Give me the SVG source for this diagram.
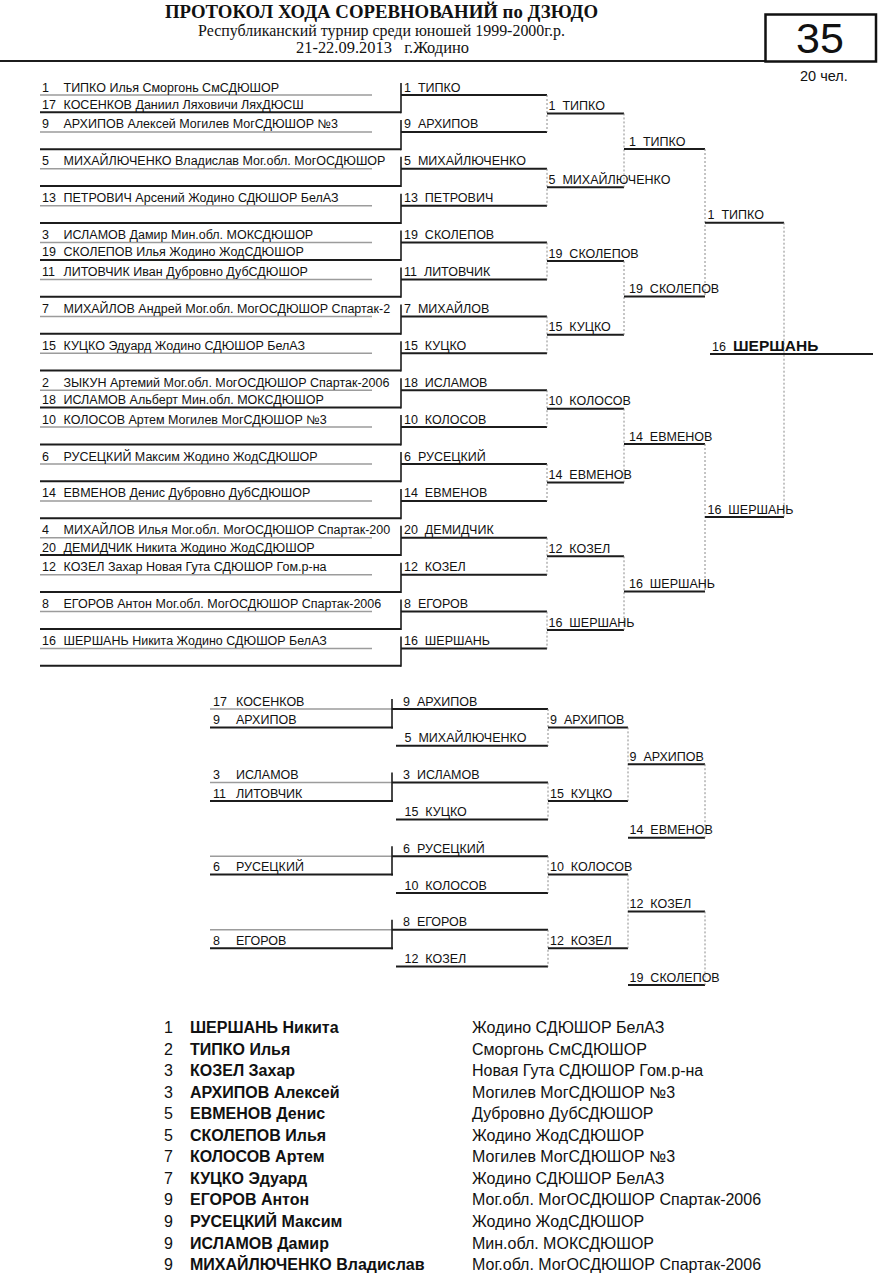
<svg xmlns="http://www.w3.org/2000/svg" width="886" height="1279" viewBox="0 0 886 1279" xml:space="preserve">
<style>
text{font-family:"Liberation Sans",Arial,sans-serif;fill:#111;white-space:pre}
.t{font-size:12.5px}
.b{font-weight:bold}
.s{font-family:"Liberation Serif","Times New Roman",serif}
.f{font-size:16px}
.ln{stroke:#1c1c1c;stroke-width:2;fill:none}
.gl{stroke:#9c9c9c;stroke-width:1.5;fill:none}
.vt{stroke:#1c1c1c;stroke-width:1.6;fill:none}
.dt{stroke:#8a8a8a;stroke-width:1;stroke-dasharray:2 2;fill:none}
</style>
<rect width="886" height="1279" fill="#fff"/>
<g id="header">
<text class="s b" x="165" y="17.5" font-size="19" textLength="433" lengthAdjust="spacingAndGlyphs">ПРОТОКОЛ ХОДА СОРЕВНОВАНИЙ по ДЗЮДО</text>
<text class="s" x="198" y="36" font-size="16.5" textLength="367" lengthAdjust="spacingAndGlyphs">Республиканский турнир среди юношей 1999-2000г.р.</text>
<text class="s" x="296" y="53" font-size="16.5" textLength="173" lengthAdjust="spacingAndGlyphs">21-22.09.2013   г.Жодино</text>
<line class="ln" x1="0" y1="61" x2="766" y2="61"/>
<rect x="765.5" y="14.5" width="110.5" height="47" fill="none" stroke="#111" stroke-width="2.5"/>
<text x="820" y="53" font-size="43" text-anchor="middle">35</text>
<text x="800" y="81" font-size="14.5">20 чел.</text>
</g>
<g id="connectors">
<path class="gl" d="M40 95H372M40 131.9H372M40 168.8H372M40 205.7H372M40 242.6H372M40 279.5H372M40 316.4H372M40 353.3H372M40 390.2H372M40 427.1H372M40 464H372M40 500.9H372M40 537.8H372M40 574.7H372M40 611.6H372M40 648.5H372"/>
<path class="ln" d="M40 112.3H401M40 149.2H401M40 186.1H401M40 223H401M40 259.9H401M40 296.8H401M40 333.7H401M40 370.6H401M40 407.5H401M40 444.4H401M40 481.3H401M40 518.2H401M40 555.1H401M40 592H401M40 628.9H401M40 665.8H401"/>
<path class="vt" d="M401 83V113.3M401 119.9V150.2M401 156.8V187.1M401 193.7V224M401 230.6V260.9M401 267.5V297.8M401 304.4V334.7M401 341.3V371.6M401 378.2V408.5M401 415.1V445.4M401 452V482.3M401 488.9V519.2M401 525.8V556.1M401 562.7V593M401 599.6V629.9M401 636.5V666.8"/>
<path class="ln" d="M401 95H547M401 131.9H547M401 168.8H547M401 205.7H547M401 242.6H547M401 279.5H547M401 316.4H547M401 353.3H547M401 390.2H547M401 427.1H547M401 464H547M401 500.9H547M401 537.8H547M401 574.7H547M401 611.6H547M401 648.5H547"/>
<path class="dt" d="M547 95V131.9M547 168.8V205.7M547 242.6V279.5M547 316.4V353.3M547 390.2V427.1M547 464V500.9M547 537.8V574.7M547 611.6V648.5"/>
<path class="ln" d="M547 113.45H624M547 187.25H624M547 261.05H624M547 334.85H624M547 408.65H624M547 482.45H624M547 556.25H624M547 630.05H624"/>
<path class="dt" d="M624 113.45V187.25M624 261.05V334.85M624 408.65V482.45M624 556.25V630.05"/>
<path class="ln" d="M624 149H705M624 296.5H705M624 444H705M624 591.5H705"/>
<path class="dt" d="M705 149V296.5M705 444V591.5"/>
<path class="ln" d="M705 222.7H784M705 517H784"/>
<path class="dt" d="M784 222.7V517"/>
<path class="ln" d="M710 354H873"/>
<path class="gl" d="M210 709H392M210 782.6H392M210 856.2H392M210 929.8H392"/>
<path class="ln" d="M210 727.4H393M210 801H393M210 874.6H393M210 948.2H393"/>
<path class="vt" d="M392 699V728.4M392 772.6V802M392 846.2V875.6M392 919.8V949.2"/>
<path class="ln" d="M392 709H548M396 745.8H548M392 782.6H548M396 819.4H548M392 856.2H548M396 893H548M392 929.8H548M396 966.6H548"/>
<path class="dt" d="M548 709V745.8M548 782.6V819.4M548 856.2V893M548 929.8V966.6"/>
<path class="ln" d="M548 727.4H628M548 801H628M548 874.6H628M548 948.2H628"/>
<path class="dt" d="M628 727.4V801M628 874.6V948.2"/>
<path class="ln" d="M628 764.2H705M628 837.8H705M628 911.4H705M628 985H705"/>
<path class="dt" d="M705 764.2V837.8M705 911.4V985"/>
</g>
<g id="round1">
<g id="p1"><text class="t" x="42" y="91.5">1</text><text class="t" x="63.5" y="91.5">ТИПКО Илья Сморгонь СмСДЮШОР</text></g>
<g id="p17"><text class="t" x="42" y="108.8">17</text><text class="t" x="63.5" y="108.8">КОСЕНКОВ Даниил Ляховичи ЛяхДЮСШ</text></g>
<g id="p9"><text class="t" x="42" y="128.4">9</text><text class="t" x="63.5" y="128.4">АРХИПОВ Алексей Могилев МогСДЮШОР №3</text></g>
<g id="p5"><text class="t" x="42" y="165.3">5</text><text class="t" x="63.5" y="165.3">МИХАЙЛЮЧЕНКО Владислав Мог.обл. МогОСДЮШОР</text></g>
<g id="p13"><text class="t" x="42" y="202.2">13</text><text class="t" x="63.5" y="202.2">ПЕТРОВИЧ Арсений Жодино СДЮШОР БелАЗ</text></g>
<g id="p3"><text class="t" x="42" y="239.1">3</text><text class="t" x="63.5" y="239.1">ИСЛАМОВ Дамир Мин.обл. МОКСДЮШОР</text></g>
<g id="p19"><text class="t" x="42" y="256.4">19</text><text class="t" x="63.5" y="256.4">СКОЛЕПОВ Илья Жодино ЖодСДЮШОР</text></g>
<g id="p11"><text class="t" x="42" y="276">11</text><text class="t" x="63.5" y="276">ЛИТОВЧИК Иван Дубровно ДубСДЮШОР</text></g>
<g id="p7"><text class="t" x="42" y="312.9">7</text><text class="t" x="63.5" y="312.9">МИХАЙЛОВ Андрей Мог.обл. МогОСДЮШОР Спартак-2</text></g>
<g id="p15"><text class="t" x="42" y="349.8">15</text><text class="t" x="63.5" y="349.8">КУЦКО Эдуард Жодино СДЮШОР БелАЗ</text></g>
<g id="p2"><text class="t" x="42" y="386.7">2</text><text class="t" x="63.5" y="386.7">ЗЫКУН Артемий Мог.обл. МогОСДЮШОР Спартак-2006</text></g>
<g id="p18"><text class="t" x="42" y="404">18</text><text class="t" x="63.5" y="404">ИСЛАМОВ Альберт Мин.обл. МОКСДЮШОР</text></g>
<g id="p10"><text class="t" x="42" y="423.6">10</text><text class="t" x="63.5" y="423.6">КОЛОСОВ Артем Могилев МогСДЮШОР №3</text></g>
<g id="p6"><text class="t" x="42" y="460.5">6</text><text class="t" x="63.5" y="460.5">РУСЕЦКИЙ Максим Жодино ЖодСДЮШОР</text></g>
<g id="p14"><text class="t" x="42" y="497.4">14</text><text class="t" x="63.5" y="497.4">ЕВМЕНОВ Денис Дубровно ДубСДЮШОР</text></g>
<g id="p4"><text class="t" x="42" y="534.3">4</text><text class="t" x="63.5" y="534.3">МИХАЙЛОВ Илья Мог.обл. МогОСДЮШОР Спартак-200</text></g>
<g id="p20"><text class="t" x="42" y="551.6">20</text><text class="t" x="63.5" y="551.6">ДЕМИДЧИК Никита Жодино ЖодСДЮШОР</text></g>
<g id="p12"><text class="t" x="42" y="571.2">12</text><text class="t" x="63.5" y="571.2">КОЗЕЛ Захар Новая Гута СДЮШОР Гом.р-на</text></g>
<g id="p8"><text class="t" x="42" y="608.1">8</text><text class="t" x="63.5" y="608.1">ЕГОРОВ Антон Мог.обл. МогОСДЮШОР Спартак-2006</text></g>
<g id="p16"><text class="t" x="42" y="645">16</text><text class="t" x="63.5" y="645">ШЕРШАНЬ Никита Жодино СДЮШОР БелАЗ</text></g>
</g>
<g id="round2">
<g id="r2-1"><text class="t" x="404" y="91.5">1  ТИПКО</text></g>
<g id="r2-2"><text class="t" x="404" y="128.4">9  АРХИПОВ</text></g>
<g id="r2-3"><text class="t" x="404" y="165.3">5  МИХАЙЛЮЧЕНКО</text></g>
<g id="r2-4"><text class="t" x="404" y="202.2">13  ПЕТРОВИЧ</text></g>
<g id="r2-5"><text class="t" x="404" y="239.1">19  СКОЛЕПОВ</text></g>
<g id="r2-6"><text class="t" x="404" y="276">11  ЛИТОВЧИК</text></g>
<g id="r2-7"><text class="t" x="404" y="312.9">7  МИХАЙЛОВ</text></g>
<g id="r2-8"><text class="t" x="404" y="349.8">15  КУЦКО</text></g>
<g id="r2-9"><text class="t" x="404" y="386.7">18  ИСЛАМОВ</text></g>
<g id="r2-10"><text class="t" x="404" y="423.6">10  КОЛОСОВ</text></g>
<g id="r2-11"><text class="t" x="404" y="460.5">6  РУСЕЦКИЙ</text></g>
<g id="r2-12"><text class="t" x="404" y="497.4">14  ЕВМЕНОВ</text></g>
<g id="r2-13"><text class="t" x="404" y="534.3">20  ДЕМИДЧИК</text></g>
<g id="r2-14"><text class="t" x="404" y="571.2">12  КОЗЕЛ</text></g>
<g id="r2-15"><text class="t" x="404" y="608.1">8  ЕГОРОВ</text></g>
<g id="r2-16"><text class="t" x="404" y="645">16  ШЕРШАНЬ</text></g>
</g>
<g id="round3">
<g id="r3-1"><text class="t" x="548.5" y="110">1  ТИПКО</text></g>
<g id="r3-2"><text class="t" x="548.5" y="183.8">5  МИХАЙЛЮЧЕНКО</text></g>
<g id="r3-3"><text class="t" x="548.5" y="257.6">19  СКОЛЕПОВ</text></g>
<g id="r3-4"><text class="t" x="548.5" y="331.4">15  КУЦКО</text></g>
<g id="r3-5"><text class="t" x="548.5" y="405.2">10  КОЛОСОВ</text></g>
<g id="r3-6"><text class="t" x="548.5" y="479">14  ЕВМЕНОВ</text></g>
<g id="r3-7"><text class="t" x="548.5" y="552.8">12  КОЗЕЛ</text></g>
<g id="r3-8"><text class="t" x="548.5" y="626.6">16  ШЕРШАНЬ</text></g>
</g>
<g id="round4">
<g id="r4-1"><text class="t" x="629" y="145.5">1  ТИПКО</text></g>
<g id="r4-2"><text class="t" x="629" y="293">19  СКОЛЕПОВ</text></g>
<g id="r4-3"><text class="t" x="629" y="440.5">14  ЕВМЕНОВ</text></g>
<g id="r4-4"><text class="t" x="629" y="588">16  ШЕРШАНЬ</text></g>
</g>
<g id="round5">
<g id="r5-1"><text class="t" x="707.5" y="219.2">1  ТИПКО</text></g>
<g id="r5-2"><text class="t" x="707.5" y="513.5">16  ШЕРШАНЬ</text></g>
</g>
<g id="winner">
<text class="t" x="712" y="351">16</text>
<text class="b" x="733" y="351" font-size="15.5">ШЕРШАНЬ</text>
</g>
<g id="repechage">
<g id="rp-17"><text class="t" x="213" y="705.5">17</text><text class="t" x="236" y="705.5">КОСЕНКОВ</text></g>
<g id="rp-9"><text class="t" x="213" y="723.9">9</text><text class="t" x="236" y="723.9">АРХИПОВ</text></g>
<g id="rp-3"><text class="t" x="213" y="779.1">3</text><text class="t" x="236" y="779.1">ИСЛАМОВ</text></g>
<g id="rp-11"><text class="t" x="213" y="797.5">11</text><text class="t" x="236" y="797.5">ЛИТОВЧИК</text></g>
<g id="rp-6"><text class="t" x="213" y="871.1">6</text><text class="t" x="236" y="871.1">РУСЕЦКИЙ</text></g>
<g id="rp-8"><text class="t" x="213" y="944.7">8</text><text class="t" x="236" y="944.7">ЕГОРОВ</text></g>
<g id="rq2-1"><text class="t" x="403" y="705.5">9  АРХИПОВ</text></g>
<g id="rq2-2"><text class="t" x="404.5" y="742.3">5  МИХАЙЛЮЧЕНКО</text></g>
<g id="rq2-3"><text class="t" x="403" y="779.1">3  ИСЛАМОВ</text></g>
<g id="rq2-4"><text class="t" x="404.5" y="815.9">15  КУЦКО</text></g>
<g id="rq2-5"><text class="t" x="403" y="852.7">6  РУСЕЦКИЙ</text></g>
<g id="rq2-6"><text class="t" x="404.5" y="889.5">10  КОЛОСОВ</text></g>
<g id="rq2-7"><text class="t" x="403" y="926.3">8  ЕГОРОВ</text></g>
<g id="rq2-8"><text class="t" x="404.5" y="963.1">12  КОЗЕЛ</text></g>
<g id="rq3-1"><text class="t" x="550" y="723.9">9  АРХИПОВ</text></g>
<g id="rq3-2"><text class="t" x="550" y="797.5">15  КУЦКО</text></g>
<g id="rq3-3"><text class="t" x="550" y="871.1">10  КОЛОСОВ</text></g>
<g id="rq3-4"><text class="t" x="550" y="944.7">12  КОЗЕЛ</text></g>
<g id="rq4-1"><text class="t" x="629.5" y="760.7">9  АРХИПОВ</text></g>
<g id="rq4-2"><text class="t" x="629.5" y="834.3">14  ЕВМЕНОВ</text></g>
<g id="rq4-3"><text class="t" x="629.5" y="907.9">12  КОЗЕЛ</text></g>
<g id="rq4-4"><text class="t" x="629.5" y="981.5">19  СКОЛЕПОВ</text></g>
</g>
<g id="results">
<g id="res1"><text class="f" x="164" y="1033">1</text><text class="f b" x="190" y="1033">ШЕРШАНЬ Никита</text><text class="f" x="472" y="1033">Жодино СДЮШОР БелАЗ</text></g>
<g id="res2"><text class="f" x="164" y="1054.5">2</text><text class="f b" x="190" y="1054.5">ТИПКО Илья</text><text class="f" x="472" y="1054.5">Сморгонь СмСДЮШОР</text></g>
<g id="res3"><text class="f" x="164" y="1076.1">3</text><text class="f b" x="190" y="1076.1">КОЗЕЛ Захар</text><text class="f" x="472" y="1076.1">Новая Гута СДЮШОР Гом.р-на</text></g>
<g id="res4"><text class="f" x="164" y="1097.6">3</text><text class="f b" x="190" y="1097.6">АРХИПОВ Алексей</text><text class="f" x="472" y="1097.6">Могилев МогСДЮШОР №3</text></g>
<g id="res5"><text class="f" x="164" y="1119.2">5</text><text class="f b" x="190" y="1119.2">ЕВМЕНОВ Денис</text><text class="f" x="472" y="1119.2">Дубровно ДубСДЮШОР</text></g>
<g id="res6"><text class="f" x="164" y="1140.7">5</text><text class="f b" x="190" y="1140.7">СКОЛЕПОВ Илья</text><text class="f" x="472" y="1140.7">Жодино ЖодСДЮШОР</text></g>
<g id="res7"><text class="f" x="164" y="1162.3">7</text><text class="f b" x="190" y="1162.3">КОЛОСОВ Артем</text><text class="f" x="472" y="1162.3">Могилев МогСДЮШОР №3</text></g>
<g id="res8"><text class="f" x="164" y="1183.8">7</text><text class="f b" x="190" y="1183.8">КУЦКО Эдуард</text><text class="f" x="472" y="1183.8">Жодино СДЮШОР БелАЗ</text></g>
<g id="res9"><text class="f" x="164" y="1205.4">9</text><text class="f b" x="190" y="1205.4">ЕГОРОВ Антон</text><text class="f" x="472" y="1205.4">Мог.обл. МогОСДЮШОР Спартак-2006</text></g>
<g id="res10"><text class="f" x="164" y="1226.9">9</text><text class="f b" x="190" y="1226.9">РУСЕЦКИЙ Максим</text><text class="f" x="472" y="1226.9">Жодино ЖодСДЮШОР</text></g>
<g id="res11"><text class="f" x="164" y="1248.5">9</text><text class="f b" x="190" y="1248.5">ИСЛАМОВ Дамир</text><text class="f" x="472" y="1248.5">Мин.обл. МОКСДЮШОР</text></g>
<g id="res12"><text class="f" x="164" y="1270">9</text><text class="f b" x="190" y="1270">МИХАЙЛЮЧЕНКО Владислав</text><text class="f" x="472" y="1270">Мог.обл. МогОСДЮШОР Спартак-2006</text></g>
</g>
</svg>
